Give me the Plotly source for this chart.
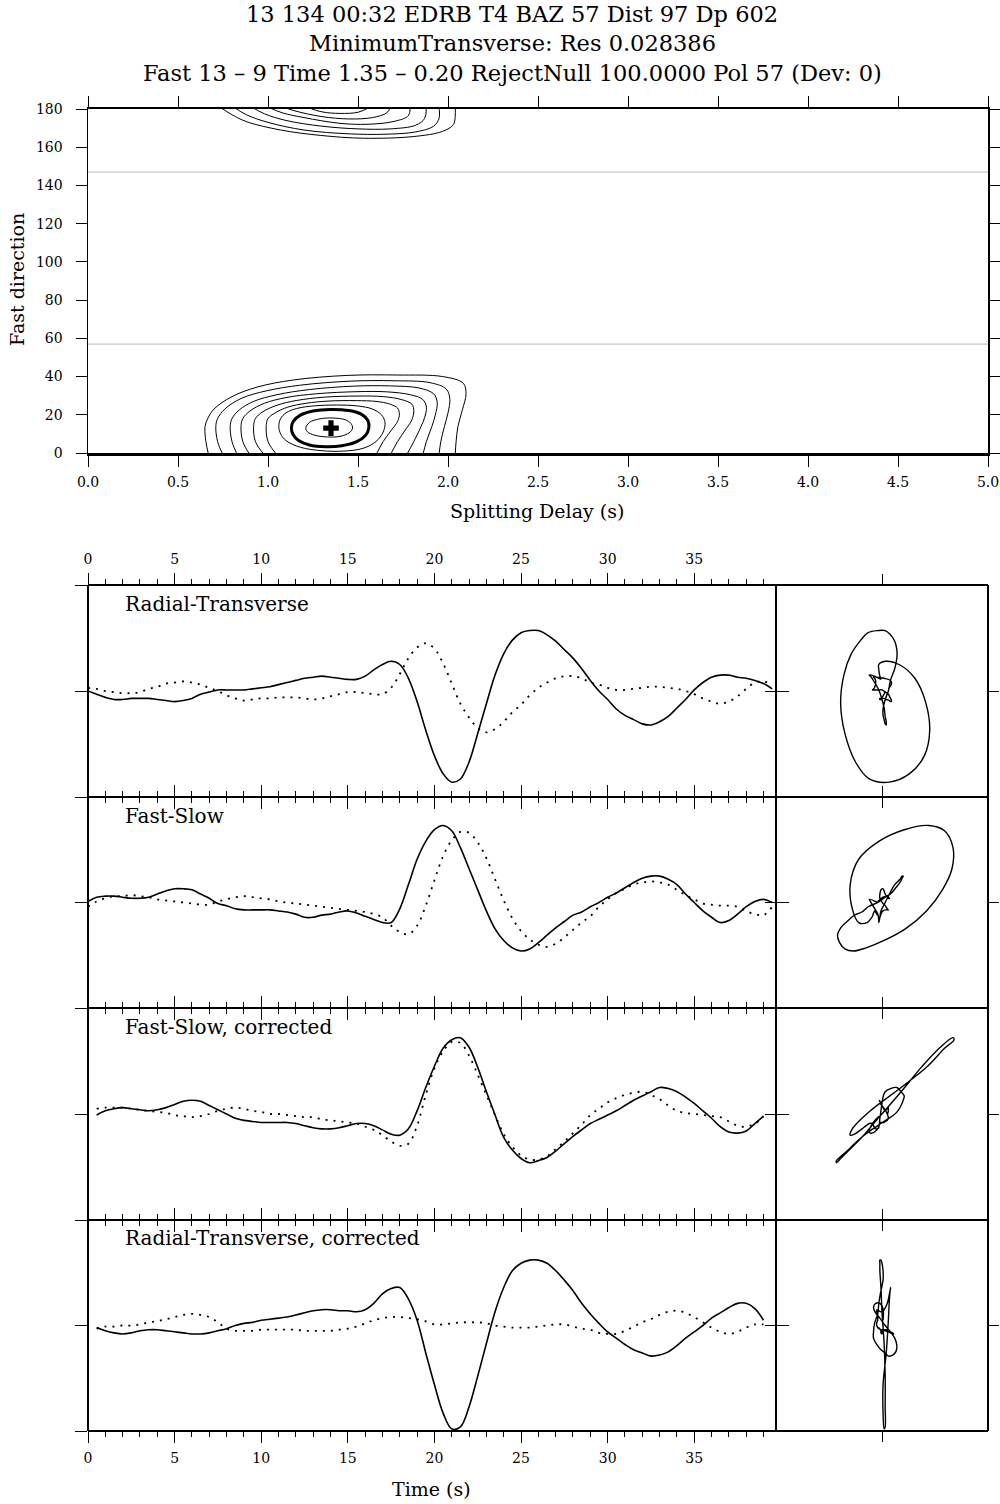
import numpy as np
import plotly.graph_objects as go

# ---------------- text ----------------
TITLE_LINES = ["13 134 00:32 EDRB T4 BAZ 57 Dist 97 Dp 602",
               "MinimumTransverse: Res 0.028386",
               "Fast 13 \u2013 9 Time 1.35 \u2013 0.20 RejectNull 100.0000 Pol 57 (Dev: 0)"]
PANEL_LABELS = ["Radial-Transverse", "Fast-Slow", "Fast-Slow, corrected", "Radial-Transverse, corrected"]

# ---------------- energy map (contours) ----------------
BEST_DELAY = 1.35
BEST_FAST = 13
POL = 57
POL_PERP = 147

C1_D = [0.67, 0.655, 0.65, 0.665, 0.70, 0.80, 0.94, 1.14, 1.44, 1.72, 1.97, 2.085, 2.10, 2.08, 2.055, 2.045, 2.04]
C1_P = [-1, 6, 13.8, 18, 23, 29.5, 34.5, 38.2, 40.6, 40.8, 40, 36.5, 31, 22.6, 13.8, 6, -1]
C2_D = [0.75, 0.72, 0.71, 0.72, 0.76, 0.85, 0.99, 1.18, 1.46, 1.70, 1.90, 1.99, 2.01, 2.00, 1.98, 1.96, 1.95]
C2_P = [-1, 6, 13.8, 18, 23, 28.5, 32.5, 35.5, 37.6, 37.8, 36.8, 33.5, 28.5, 21, 13.8, 6, -1]
C3_D = [0.83, 0.80, 0.79, 0.80, 0.84, 0.92, 1.05, 1.23, 1.48, 1.68, 1.84, 1.92, 1.94, 1.93, 1.91, 1.88, 1.86]
C3_P = [-1, 6, 13.8, 18, 22.5, 27, 30.5, 33.2, 35, 35.1, 34, 31, 26.5, 20, 13.8, 6, -1]
C4_D = [0.90, 0.86, 0.85, 0.86, 0.90, 0.98, 1.10, 1.27, 1.50, 1.66, 1.79, 1.86, 1.88, 1.87, 1.85, 1.81, 1.77]
C4_P = [-1, 6, 13.8, 18, 22, 26, 29, 31, 32.1, 32, 30.5, 28, 24, 18.5, 13.8, 6, -1]
C5_D = [0.98, 0.93, 0.92, 0.93, 0.97, 1.05, 1.16, 1.31, 1.50, 1.64, 1.74, 1.80, 1.81, 1.80, 1.77, 1.72, 1.68]
C5_P = [-1, 6, 13.8, 18, 21.5, 25, 27.5, 29.2, 29.8, 29.5, 28, 25.5, 22, 17.5, 13, 6, -1]
C6_D = [1.05, 1.00, 0.99, 1.00, 1.04, 1.11, 1.21, 1.34, 1.49, 1.60, 1.68, 1.72, 1.73, 1.72, 1.69, 1.64, 1.60]
C6_P = [-1, 6, 13.8, 18, 21, 24, 26, 27.2, 27.4, 27, 25.5, 23.5, 20.5, 16.5, 12.5, 6, -1]
C7_D = [1.06, 1.07, 1.10, 1.16, 1.26, 1.38, 1.50, 1.58, 1.63, 1.65, 1.64, 1.60, 1.53, 1.42, 1.30, 1.18, 1.10, 1.07, 1.06]
C7_P = [13.8, 18, 21, 23.3, 24.7, 25.1, 24.6, 23, 20, 16, 11, 6, 2.5, 1, 1.2, 3, 6.5, 10, 13.8]
THICK_D = [1.13, 1.14, 1.18, 1.25, 1.35, 1.45, 1.52, 1.555, 1.56, 1.54, 1.49, 1.41, 1.32, 1.23, 1.17, 1.14, 1.13]
THICK_P = [13, 16.5, 19.8, 22, 22.8, 22.2, 20.2, 17, 13, 9, 5.8, 3.8, 3.3, 4.2, 6.5, 9.5, 13]
INNER_D = [1.21, 1.23, 1.29, 1.36, 1.43, 1.46, 1.47, 1.45, 1.40, 1.33, 1.26, 1.22, 1.21]
INNER_P = [13, 16, 17.9, 18.3, 17.4, 15.5, 13, 10.5, 8.7, 8.4, 9.3, 11, 13]

TA_D = [0.733, 0.80, 0.88, 1.07, 1.29, 1.53, 1.81, 1.97, 2.03, 2.04, 2.04]
TA_P = [181, 177, 173.4, 169, 166.2, 164.7, 165.6, 168.3, 171.8, 176, 181]
TB_D = [0.81, 0.88, 1.00, 1.20, 1.45, 1.65, 1.82, 1.92, 1.95, 1.95]
TB_P = [181, 177, 173, 169, 167, 166.8, 168, 171, 175, 181]
TC_D = [0.91, 0.98, 1.10, 1.30, 1.50, 1.68, 1.82, 1.87, 1.88]
TC_P = [181, 177.5, 174, 171, 169.6, 169.6, 171.5, 175, 181]
TD_D = [1.00, 1.08, 1.20, 1.40, 1.55, 1.70, 1.78, 1.79]
TD_P = [181, 178, 175.5, 172.5, 172, 173.5, 176.5, 181]
TE_D = [1.085, 1.15, 1.30, 1.45, 1.58, 1.66, 1.68]
TE_P = [181, 179, 176, 174.8, 175.5, 178, 181]
TF_D = [1.215, 1.30, 1.40, 1.50, 1.567]
TF_P = [181, 178.5, 177.7, 178.3, 181]

# ---------------- seismograms (normalised amplitude) ----------------
T_RAW = np.arange(0, 40, 0.5)        # 0 .. 39.5 s
T_COR = np.arange(0.5, 39.5, 0.5)    # 0.5 .. 39.0 s

RADIAL = [-0.00, -0.03, -0.06, -0.08, -0.08, -0.07, -0.07, -0.07, -0.08, -0.09,
          -0.10, -0.09, -0.07, -0.03, -0.01, 0.01, 0.01, 0.01, 0.01, 0.02,
          0.03, 0.04, 0.06, 0.08, 0.10, 0.12, 0.13, 0.14, 0.13, 0.12,
          0.11, 0.11, 0.14, 0.20, 0.25, 0.28, 0.25, 0.12, -0.10, -0.37,
          -0.61, -0.78, -0.86, -0.83, -0.67, -0.40, -0.12, 0.15, 0.35, 0.48,
          0.55, 0.57, 0.57, 0.53, 0.47, 0.39, 0.31, 0.21, 0.10, 0.00,
          -0.08, -0.17, -0.23, -0.27, -0.31, -0.32, -0.29, -0.24, -0.16, -0.08,
          0.01, 0.08, 0.13, 0.15, 0.15, 0.13, 0.12, 0.10, 0.07, 0.02]
TRANSVERSE = [0.03, 0.02, 0.00, -0.01, -0.02, -0.02, -0.01, 0.02, 0.04, 0.07,
              0.08, 0.09, 0.08, 0.06, 0.03, -0.00, -0.04, -0.07, -0.09, -0.08,
              -0.07, -0.07, -0.06, -0.06, -0.06, -0.07, -0.08, -0.07, -0.05, -0.03,
              -0.01, -0.01, -0.02, -0.03, -0.03, 0.03, 0.16, 0.31, 0.41, 0.45,
              0.40, 0.26, 0.07, -0.12, -0.25, -0.35, -0.39, -0.36, -0.29, -0.20,
              -0.13, -0.04, 0.03, 0.08, 0.12, 0.14, 0.14, 0.12, 0.08, 0.06,
              0.03, 0.01, 0.01, 0.02, 0.03, 0.04, 0.04, 0.03, 0.02, 0.00,
              -0.03, -0.07, -0.10, -0.12, -0.10, -0.05, 0.02, 0.08, 0.09, 0.06]
FAST = [0.01, 0.05, 0.06, 0.06, 0.05, 0.04, 0.04, 0.05, 0.08, 0.11,
        0.13, 0.13, 0.12, 0.08, 0.04, -0.01, -0.03, -0.06, -0.07, -0.07,
        -0.07, -0.07, -0.08, -0.09, -0.11, -0.14, -0.14, -0.12, -0.11, -0.09,
        -0.08, -0.10, -0.13, -0.16, -0.19, -0.19, -0.06, 0.17, 0.41, 0.58,
        0.69, 0.73, 0.68, 0.52, 0.32, 0.12, -0.08, -0.25, -0.36, -0.43,
        -0.46, -0.44, -0.38, -0.31, -0.24, -0.18, -0.12, -0.09, -0.04, 0.00,
        0.05, 0.09, 0.14, 0.19, 0.23, 0.25, 0.25, 0.22, 0.17, 0.08,
        -0.00, -0.08, -0.14, -0.19, -0.17, -0.11, -0.04, 0.01, 0.03, 0.00]
SLOW = [-0.04, 0.01, 0.04, 0.06, 0.06, 0.07, 0.06, 0.05, 0.03, 0.02,
        0.01, -0.00, -0.01, -0.02, -0.02, 0.01, 0.03, 0.05, 0.06, 0.05,
        0.04, 0.03, 0.01, -0.00, -0.01, -0.02, -0.03, -0.04, -0.05, -0.06,
        -0.07, -0.08, -0.09, -0.11, -0.14, -0.22, -0.28, -0.30, -0.22, -0.03,
        0.21, 0.44, 0.59, 0.67, 0.66, 0.57, 0.42, 0.22, 0.02, -0.15,
        -0.27, -0.35, -0.40, -0.42, -0.39, -0.33, -0.26, -0.19, -0.13, -0.04,
        0.03, 0.09, 0.13, 0.17, 0.19, 0.20, 0.19, 0.17, 0.12, 0.07,
        0.03, -0.01, -0.02, -0.03, -0.03, -0.04, -0.08, -0.11, -0.12, -0.04]
FAST_COR = [-0.01, 0.03, 0.05, 0.06, 0.05, 0.04, 0.03, 0.04, 0.06, 0.09,
            0.12, 0.13, 0.12, 0.08, 0.04, -0.00, -0.04, -0.06, -0.07, -0.08,
            -0.08, -0.08, -0.08, -0.09, -0.11, -0.13, -0.14, -0.14, -0.13, -0.11,
            -0.09, -0.09, -0.11, -0.15, -0.19, -0.20, -0.14, 0.03, 0.25, 0.45,
            0.62, 0.70, 0.72, 0.63, 0.44, 0.21, -0.01, -0.22, -0.34, -0.42,
            -0.46, -0.44, -0.41, -0.35, -0.28, -0.21, -0.15, -0.09, -0.05, -0.01,
            0.03, 0.08, 0.13, 0.17, 0.21, 0.25, 0.24, 0.21, 0.16, 0.10,
            0.03, -0.04, -0.12, -0.17, -0.18, -0.16, -0.09, -0.02]
SLOW_COR = [0.05, 0.06, 0.06, 0.06, 0.05, 0.04, 0.03, 0.02, 0.01, -0.01,
            -0.02, -0.03, -0.02, 0.00, 0.03, 0.05, 0.06, 0.05, 0.03, 0.02,
            0.00, -0.00, -0.01, -0.02, -0.03, -0.03, -0.05, -0.06, -0.07, -0.08,
            -0.09, -0.12, -0.15, -0.20, -0.26, -0.30, -0.28, -0.11, 0.18, 0.43,
            0.59, 0.68, 0.67, 0.55, 0.37, 0.18, -0.01, -0.19, -0.31, -0.39,
            -0.43, -0.43, -0.40, -0.33, -0.26, -0.18, -0.10, -0.01, 0.05, 0.11,
            0.15, 0.18, 0.20, 0.21, 0.18, 0.14, 0.08, 0.03, 0.01, 0.00,
            -0.01, -0.02, -0.03, -0.07, -0.11, -0.12, -0.09, -0.03]
RADIAL_COR = [-0.02, -0.05, -0.07, -0.08, -0.07, -0.05, -0.04, -0.04, -0.05, -0.06,
              -0.07, -0.08, -0.08, -0.07, -0.05, -0.03, -0.00, 0.02, 0.03, 0.05,
              0.06, 0.07, 0.08, 0.10, 0.12, 0.14, 0.15, 0.15, 0.14, 0.14,
              0.13, 0.15, 0.21, 0.30, 0.35, 0.36, 0.25, 0.05, -0.26, -0.56,
              -0.83, -0.98, -0.96, -0.77, -0.48, -0.17, 0.13, 0.36, 0.52, 0.59,
              0.62, 0.62, 0.59, 0.52, 0.43, 0.33, 0.21, 0.11, 0.02, -0.06,
              -0.12, -0.18, -0.23, -0.26, -0.29, -0.28, -0.25, -0.19, -0.12, -0.06,
              0.00, 0.07, 0.12, 0.17, 0.21, 0.21, 0.16, 0.05]
TRANSVERSE_COR = [-0.03, -0.01, -0.01, -0.00, 0.00, 0.01, 0.03, 0.04, 0.06, 0.08,
                  0.10, 0.11, 0.10, 0.08, 0.03, -0.03, -0.05, -0.05, -0.05, -0.04,
                  -0.04, -0.04, -0.04, -0.04, -0.05, -0.05, -0.05, -0.05, -0.04, -0.03,
                  -0.01, 0.02, 0.05, 0.07, 0.08, 0.08, 0.07, 0.06, 0.04, 0.01,
                  0.01, 0.02, 0.03, 0.03, 0.03, 0.02, 0.00, -0.01, -0.02, -0.02,
                  -0.02, -0.01, 0.00, 0.01, 0.01, -0.01, -0.03, -0.04, -0.07, -0.08,
                  -0.08, -0.05, -0.01, 0.03, 0.06, 0.10, 0.13, 0.14, 0.12, 0.08,
                  0.03, -0.02, -0.06, -0.08, -0.06, -0.02, 0.01, 0.01]

TIME_TICKS = [0, 5, 10, 15, 20, 25, 30, 35]

# ---------------- figure ----------------
W, H = 1000, 1504
FONT = "DejaVu Serif, serif"


def px_x(p):
    return p / W


def px_y(p):
    return 1 - p / H


fig = go.Figure()

LINE = dict(color="black", width=1, shape="spline", smoothing=1)

# grey polarisation lines
for v in (POL, POL_PERP):
    fig.add_trace(go.Scatter(x=[0, 5], y=[v, v], mode="lines",
                             line=dict(color="#c8c8c8", width=1.2),
                             xaxis="x", yaxis="y", showlegend=False, hoverinfo="skip"))

for d, p in [(C1_D, C1_P), (C2_D, C2_P), (C3_D, C3_P), (C4_D, C4_P), (C5_D, C5_P),
             (C6_D, C6_P), (C7_D, C7_P), (INNER_D, INNER_P),
             (TA_D, TA_P), (TB_D, TB_P), (TC_D, TC_P), (TD_D, TD_P), (TE_D, TE_P), (TF_D, TF_P)]:
    fig.add_trace(go.Scatter(x=d, y=p, mode="lines", line=LINE, xaxis="x", yaxis="y",
                             showlegend=False, hoverinfo="skip"))
fig.add_trace(go.Scatter(x=THICK_D, y=THICK_P, mode="lines",
                         line=dict(color="black", width=3, shape="spline", smoothing=1),
                         xaxis="x", yaxis="y", showlegend=False, hoverinfo="skip"))
fig.add_trace(go.Scatter(x=[BEST_DELAY], y=[BEST_FAST], mode="markers",
                         marker=dict(symbol="cross", size=13, color="black", line=dict(width=0)),
                         xaxis="x", yaxis="y", showlegend=False, hoverinfo="skip"))

PANELS = [(T_RAW, RADIAL, TRANSVERSE), (T_RAW, FAST, SLOW),
          (T_COR, FAST_COR, SLOW_COR), (T_COR, RADIAL_COR, TRANSVERSE_COR)]
ROWS = [(585, 797), (797, 1008), (1008, 1220), (1220, 1431)]

SOLID = dict(color="black", width=1.6, shape="spline", smoothing=1)
DOTTED = dict(color="black", width=1.8, dash="2px,6px", shape="spline", smoothing=1)

for i, (t, a, b) in enumerate(PANELS):
    xa, ya = f"x{2 + i}", f"y{2 + i}"
    xp, yp = f"x{6 + i}", f"y{6 + i}"
    fig.add_trace(go.Scatter(x=t, y=b, mode="lines", line=DOTTED, xaxis=xa, yaxis=ya,
                             showlegend=False, hoverinfo="skip"))
    fig.add_trace(go.Scatter(x=t, y=a, mode="lines", line=SOLID, xaxis=xa, yaxis=ya,
                             showlegend=False, hoverinfo="skip"))
    fig.add_trace(go.Scatter(x=b, y=a, mode="lines",
                             line=dict(color="black", width=1.4, shape="spline", smoothing=1),
                             xaxis=xp, yaxis=yp, showlegend=False, hoverinfo="skip"))

TICKFONT = dict(family=FONT, size=14, color="black")
layout = dict(width=W, height=H, margin=dict(l=0, r=0, t=0, b=0),
              paper_bgcolor="white", plot_bgcolor="white", showlegend=False,
              font=dict(family=FONT, color="black"))

layout["xaxis"] = dict(domain=[px_x(88), px_x(988)], range=[0, 5], anchor="y",
                       tickmode="linear", tick0=0, dtick=0.5, tickformat=".1f",
                       ticks="outside", ticklen=11, tickcolor="black", tickwidth=1,
                       showline=True, linecolor="black", linewidth=2.5, mirror="ticks",
                       showgrid=False, zeroline=False, tickfont=TICKFONT,
                       ticklabelstandoff=4, automargin=False)
layout["yaxis"] = dict(domain=[px_y(453), px_y(109)], range=[0, 180], anchor="x",
                       tickmode="linear", tick0=0, dtick=20,
                       ticks="outside", ticklen=11, tickcolor="black", tickwidth=1,
                       showline=True, linecolor="black", linewidth=1.5, mirror="ticks",
                       showgrid=False, zeroline=False, tickfont=TICKFONT,
                       ticklabelstandoff=10, automargin=False)

for i, (top, bot) in enumerate(ROWS):
    k = 2 + i
    labels = i in (0, 3)
    layout[f"xaxis{k}"] = dict(domain=[px_x(88), px_x(776)], range=[0, 39.72], anchor=f"y{k}",
                               tickmode="array", tickvals=TIME_TICKS,
                               side="top" if i == 0 else "bottom",
                               showticklabels=labels, ticks="outside", ticklen=11,
                               tickcolor="black", tickwidth=1,
                               minor=dict(dtick=1, tick0=0, ticks="outside", ticklen=5,
                                          tickcolor="black", tickwidth=1, showgrid=False),
                               showline=False, mirror="ticks",
                               showgrid=False, zeroline=False, tickfont=TICKFONT,
                               ticklabelstandoff=3, automargin=False)
    layout[f"yaxis{k}"] = dict(domain=[px_y(bot), px_y(top)], range=[-1, 1], anchor=f"x{k}",
                               tickmode="array", tickvals=[-1, 0, 1], showticklabels=False,
                               ticks="outside", ticklen=12, tickcolor="black", tickwidth=1,
                               showline=False, mirror="ticks",
                               showgrid=False, zeroline=False, automargin=False)
    k2 = 6 + i
    layout[f"xaxis{k2}"] = dict(domain=[px_x(776), px_x(988)], range=[-1, 1], anchor=f"y{k2}",
                                tickmode="array", tickvals=[0], showticklabels=False,
                                ticks="outside", ticklen=10, tickcolor="black", tickwidth=1,
                                showline=False, mirror="ticks",
                                showgrid=False, zeroline=False, automargin=False)
    layout[f"yaxis{k2}"] = dict(domain=[px_y(bot), px_y(top)], range=[-1, 1], anchor=f"x{k2}",
                                tickmode="array", tickvals=[0], showticklabels=False,
                                ticks="outside", ticklen=10, tickcolor="black", tickwidth=1,
                                showline=False, mirror="ticks",
                                showgrid=False, zeroline=False, automargin=False)

# panel frames (one line per edge so shared edges are not doubled)
FRAME = dict(color="black", width=2)
shapes = []
for yb in (585, 797, 1008, 1220, 1431):
    shapes.append(dict(type="line", xref="paper", yref="paper",
                       x0=px_x(88), x1=px_x(988), y0=px_y(yb), y1=px_y(yb), line=FRAME))
for xb in (88, 776, 988):
    shapes.append(dict(type="line", xref="paper", yref="paper",
                       x0=px_x(xb), x1=px_x(xb), y0=px_y(585), y1=px_y(1431), line=FRAME))
layout["shapes"] = shapes

ann = []
for line, yc in zip(TITLE_LINES, (14, 43, 73)):
    ann.append(dict(text=line, x=0.512, y=px_y(yc), xref="paper", yref="paper",
                    xanchor="center", yanchor="middle", showarrow=False,
                    font=dict(family=FONT, size=22.5, color="black")))
ann.append(dict(text="Fast direction", x=px_x(17), y=px_y(280), xref="paper", yref="paper",
                textangle=-90, xanchor="center", yanchor="middle", showarrow=False,
                font=dict(family=FONT, size=19, color="black")))
ann.append(dict(text="Splitting Delay (s)", x=px_x(537), y=px_y(511), xref="paper", yref="paper",
                xanchor="center", yanchor="middle", showarrow=False,
                font=dict(family=FONT, size=19, color="black")))
ann.append(dict(text="Time (s)", x=px_x(431), y=px_y(1489), xref="paper", yref="paper",
                xanchor="center", yanchor="middle", showarrow=False,
                font=dict(family=FONT, size=19, color="black")))
for lab, yc in zip(PANEL_LABELS, (604, 816, 1027, 1238)):
    ann.append(dict(text=lab, x=px_x(123), y=px_y(yc), xref="paper", yref="paper",
                    xanchor="left", yanchor="middle", showarrow=False,
                    font=dict(family=FONT, size=20, color="black")))
layout["annotations"] = ann

fig.update_layout(**layout)
fig.write_html("out.html",
               config={"displayModeBar": False, "staticPlot": True},
               post_script="document.body.style.margin='0px';document.body.style.overflow='hidden';")
